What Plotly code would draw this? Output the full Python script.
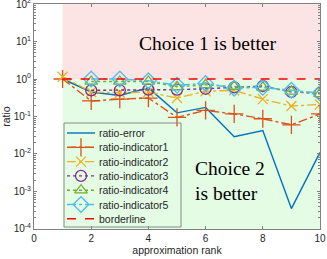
import plotly.graph_objects as go

ranks = [1, 2, 3, 4, 5, 6, 7, 8, 9, 10]
ranks_b = [2, 3, 4, 5, 6, 7, 8, 9, 10]
ratio_error = [1, 0.45, 0.365, 0.58, 0.125, 0.175, 0.029, 0.042, 3.5e-4, 0.011]
ratio_ind1 = [1, 0.26, 0.29, 0.31, 0.095, 0.145, 0.117, 0.087, 0.06, 0.117]
ratio_ind2 = [1.15, 0.45, 0.43, 0.45, 0.31, 0.47, 0.5, 0.29, 0.19, 0.21]
ratio_ind3 = [0.5, 0.5, 0.52, 0.52, 0.55, 0.6, 0.65, 0.45, 0.42]
ratio_ind4 = [0.86, 0.86, 0.86, 0.62, 0.7, 0.63, 0.6, 0.47, 0.4]
ratio_ind5 = [1.0, 1.0, 0.9, 0.68, 0.76, 0.57, 0.6, 0.5, 0.42]
border_x = [1, 10]
border_y = [1, 1]

y_tickvals = [1e-4, 1e-3, 1e-2, 1e-1, 1, 10, 100]
y_ticktext = ["10<sup>-4</sup>", "10<sup>-3</sup>", "10<sup>-2</sup>", "10<sup>-1</sup>",
              "10<sup>0</sup>", "10<sup>1</sup>", "10<sup>2</sup>"]
x_tickvals = [0, 2, 4, 6, 8, 10]

names = ["ratio-error", "ratio-indicator1", "ratio-indicator2", "ratio-indicator3",
         "ratio-indicator4", "ratio-indicator5", "borderline"]
colors = ["#0072BD", "#D95319", "#EDB120", "#7E2F8E", "#77AC30", "#4DBEEE", "#FF0000"]
dashes = ["solid", "dashdot", "dashdot", "dot", "dot", "dashdot", "dash"]
symbols = [None, "cross-thin-open", "x-thin-open", "circle-open", "triangle-up-open", "diamond-open", None]
msizes = [0, 13, 10, 11, 11, 12, 0]

series = [
    (ranks, ratio_error), (ranks, ratio_ind1), (ranks, ratio_ind2), (ranks_b, ratio_ind3),
    (ranks_b, ratio_ind4), (ranks_b, ratio_ind5), (border_x, border_y),
]

fig = go.Figure()
for i, (xs, ys) in enumerate(series):
    mode = "lines+markers" if symbols[i] else "lines"
    mk = dict(symbol=symbols[i], size=msizes[i], color=colors[i],
              line=dict(width=1.3, color=colors[i])) if symbols[i] else None
    fig.add_trace(go.Scatter(x=xs, y=ys, mode=mode, name=names[i],
                             line=dict(color=colors[i], width=1.4, dash=dashes[i]),
                             marker=mk, showlegend=False))

# manual legend (pixel-space overlay axes)
leg_top = 133
leg_step = 14.3
for i in range(len(names)):
    yy = leg_top + i * leg_step
    fig.add_trace(go.Scatter(x=[67, 95], y=[yy, yy], mode="lines",
                             line=dict(color=colors[i], width=1.4, dash=dashes[i]),
                             xaxis="x2", yaxis="y2", showlegend=False, hoverinfo="skip"))
    if symbols[i]:
        mk = dict(symbol=symbols[i], size=msizes[i], color=colors[i],
                  line=dict(width=1.3, color=colors[i]))
        fig.add_trace(go.Scatter(x=[81], y=[yy], mode="markers", marker=mk,
                                 xaxis="x2", yaxis="y2", showlegend=False, hoverinfo="skip"))
    fig.add_annotation(x=97, y=yy, xref="x2", yref="y2", text=names[i], showarrow=False,
                       xanchor="left", yanchor="middle",
                       font=dict(family="Liberation Sans", size=10.5, color="#262626"))

fig.add_shape(type="rect", xref="x2", yref="y2", x0=64, x1=181, y0=123, y1=227,
              line=dict(color="#8a8a8a", width=1), fillcolor="rgba(0,0,0,0)")

# regions
fig.add_shape(type="rect", xref="x", yref="y", x0=1, x1=10, y0=1, y1=100,
              fillcolor="#fde4e4", line=dict(width=0), layer="below")
fig.add_shape(type="rect", xref="x", yref="y", x0=1, x1=10, y0=1e-4, y1=1,
              fillcolor="#e4fbe4", line=dict(width=0), layer="below")

fig.add_annotation(x=208, y=43, xref="x2", yref="y2", text="Choice 1 is better",
                   showarrow=False, xanchor="center", yanchor="middle",
                   font=dict(family="Liberation Serif", size=19.5, color="#000"))
fig.add_annotation(x=193, y=181, xref="x2", yref="y2", text="Choice 2<br>is better",
                   showarrow=False, xanchor="left", yanchor="middle", align="left",
                   font=dict(family="Liberation Serif", size=19.5, color="#000"))

axcol = "#808080"
fig.update_layout(
    width=327, height=259,
    margin=dict(l=34, r=7, t=4, b=30),
    paper_bgcolor="white", plot_bgcolor="white",
    font=dict(family="Liberation Sans", size=10, color="#262626"),
    xaxis=dict(range=[0, 10.0001], tickvals=x_tickvals, showgrid=False, zeroline=False,
               showline=True, linecolor=axcol, linewidth=1, mirror="ticks",
               ticks="inside", ticklen=3, tickcolor=axcol, automargin=False,
               ticklabeloverflow="allow",
               title=dict(text="approximation rank", standoff=3, font=dict(size=10.5))),
    yaxis=dict(type="log", range=[-4.0005, 2.0005], tickvals=y_tickvals, ticktext=y_ticktext,
               showgrid=False, zeroline=False,
               showline=True, linecolor=axcol, linewidth=1, mirror="ticks",
               ticks="inside", ticklen=3, tickcolor=axcol, automargin=False,
               ticklabeloverflow="allow",
               minor=dict(ticks="inside", ticklen=2, tickcolor=axcol, dtick="D1"),
               title=dict(text="ratio", standoff=3, font=dict(size=10.5))),
    xaxis2=dict(overlaying="x", range=[34, 320], visible=False, fixedrange=True),
    yaxis2=dict(overlaying="y", range=[229, 4], visible=False, fixedrange=True),
    showlegend=False,
)

fig.write_html("out.html", config={"displayModeBar": False},
               post_script="document.body.style.margin='0';document.body.style.padding='0';")
